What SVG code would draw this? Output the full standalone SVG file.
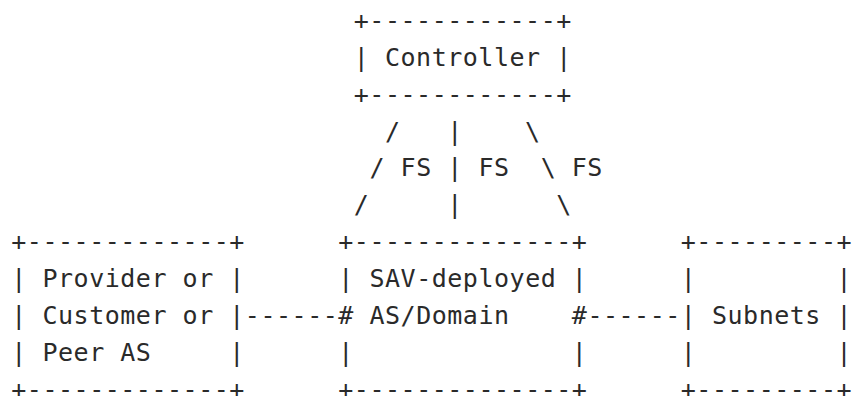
<svg xmlns="http://www.w3.org/2000/svg" width="853" height="396" viewBox="0 0 853 396" xml:space="preserve">
<style>
text { font-family: "DejaVu Sans Mono", "Liberation Mono", monospace; font-size: 25px; letter-spacing: 0.52px; fill: #2a2a2a; white-space: pre; }
</style>
<rect width="853" height="396" fill="#ffffff"/>
<g id="controller">
<text x="353.8" y="28.8">+------------+</text>
<text x="353.8" y="65.7">| Controller |</text>
<text x="353.8" y="102.6">+------------+</text>
</g>
<g id="connectors">
<text x="385.0" y="139.5">/</text>
<text x="447.3" y="139.5">|</text>
<text x="525.1" y="139.5">\</text>
<text x="369.4" y="176.4">/</text>
<text x="400.6" y="176.4">FS</text>
<text x="447.3" y="176.4">|</text>
<text x="478.4" y="176.4">FS</text>
<text x="540.7" y="176.4">\</text>
<text x="571.8" y="176.4">FS</text>
<text x="353.8" y="213.3">/</text>
<text x="447.3" y="213.3">|</text>
<text x="556.3" y="213.3">\</text>
<text x="244.85" y="324.0">------</text>
<text x="587.4" y="324.0">------</text>
</g>
<g id="peer-as">
<text x="11.3" y="250.2">+-------------+</text>
<text x="11.3" y="287.1">| Provider or |</text>
<text x="11.3" y="324.0">| Customer or |</text>
<text x="11.3" y="360.9">| Peer AS     |</text>
<text x="11.3" y="397.8">+-------------+</text>
</g>
<g id="sav-domain">
<text x="338.3" y="250.2">+--------------+</text>
<text x="338.3" y="287.1">| SAV-deployed |</text>
<text x="338.3" y="324.0"># AS/Domain    #</text>
<text x="338.3" y="360.9">|              |</text>
<text x="338.3" y="397.8">+--------------+</text>
</g>
<g id="subnets">
<text x="680.8" y="250.2">+---------+</text>
<text x="680.8" y="287.1">|         |</text>
<text x="680.8" y="324.0">| Subnets |</text>
<text x="680.8" y="360.9">|         |</text>
<text x="680.8" y="397.8">+---------+</text>
</g>
</svg>
